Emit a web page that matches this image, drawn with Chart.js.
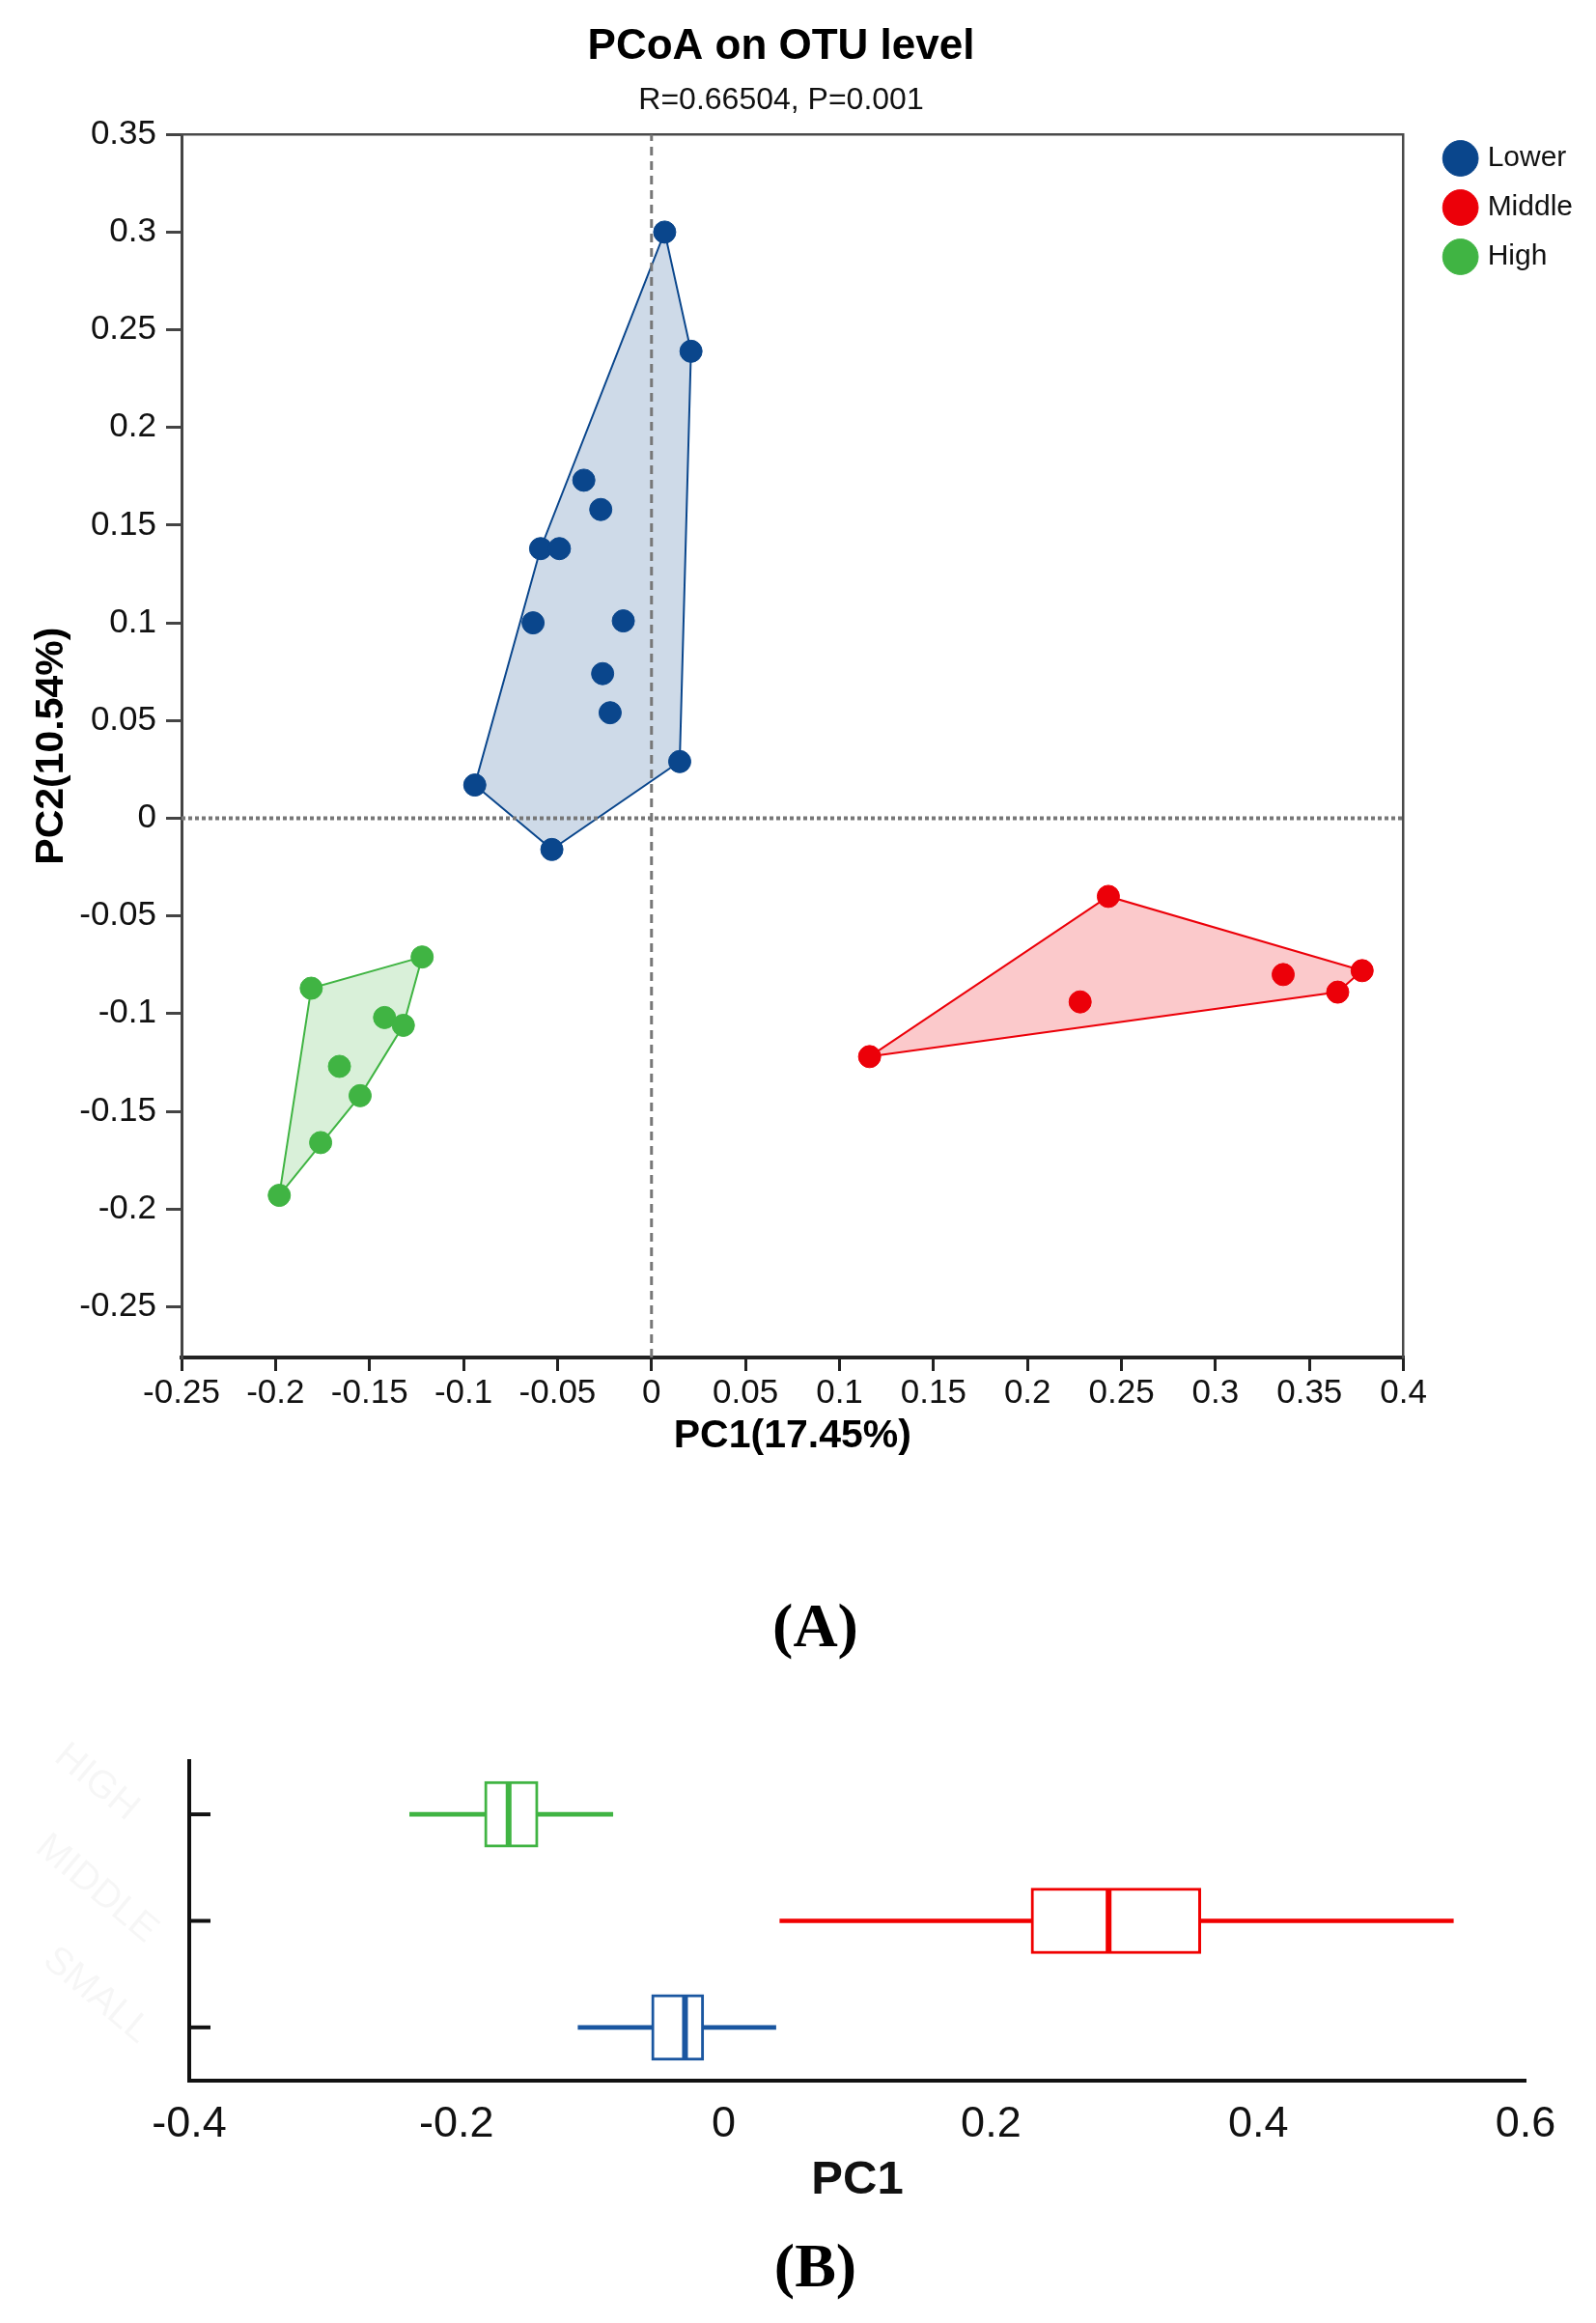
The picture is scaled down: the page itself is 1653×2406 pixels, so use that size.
<!DOCTYPE html>
<html>
<head>
<meta charset="utf-8">
<script src="https://cdn.jsdelivr.net/npm/chart.js@4.4.1/dist/chart.umd.min.js"></script>
<style>
    html, body { margin: 0; padding: 0; background: #fff; width: 1653px; height: 2406px; overflow: hidden; position: relative; }
    #pcoa-plot { position: absolute; left: -21px; top: 0; }
    #pc1-box-plot { position: absolute; left: 0; top: 1760px; }
    .panel-label { position: absolute; left: 18px; width: 1653px; text-align: center; line-height: 1;
        font: bold 64px 'Liberation Serif', 'Times New Roman', serif; color: #000; }
</style>
</head>
<body>
<canvas id="pcoa-plot" width="1670" height="1520"></canvas>
<div class="panel-label" style="top: 1647px">(A)</div>
<canvas id="pc1-box-plot" width="1653" height="540"></canvas>
<div class="panel-label" style="top: 2310px">(B)</div>

<script>
// ---- Panel A: PCoA scatter ----
const groups = ['Lower', 'Middle', 'High']
const groupColors = ['#0A468C', '#EC0009', '#40B443']
const groupFills = ['rgba(10,70,140,0.2)', 'rgba(236,0,9,0.21)', 'rgba(64,180,67,0.2)']

const lowerPC1 = [0.007, 0.021, -0.036, -0.027, -0.059, -0.049, -0.063, -0.015, -0.026, -0.022, 0.015, -0.094, -0.053]
const lowerPC2 = [0.300, 0.239, 0.173, 0.158, 0.138, 0.138, 0.100, 0.101, 0.074, 0.054, 0.029, 0.017, -0.016]
const middlePC1 = [0.243, 0.378, 0.336, 0.365, 0.228, 0.116]
const middlePC2 = [-0.040, -0.078, -0.080, -0.089, -0.094, -0.122]
const highPC1 = [-0.122, -0.181, -0.142, -0.132, -0.166, -0.155, -0.176, -0.198]
const highPC2 = [-0.071, -0.087, -0.102, -0.106, -0.127, -0.142, -0.166, -0.193]

const pc1Ticks = [-0.25, -0.2, -0.15, -0.1, -0.05, 0, 0.05, 0.1, 0.15, 0.2, 0.25, 0.3, 0.35, 0.4]
const pc2Ticks = [-0.25, -0.2, -0.15, -0.1, -0.05, 0, 0.05, 0.1, 0.15, 0.2, 0.25, 0.3, 0.35]
const pc1Min = -0.25
const pc1Max = 0.4
const pc2Min = -0.276
const pc2Max = 0.35

// ---- Panel B: PC1 box plot ----
const boxCategories = ['HIGH', 'MIDDLE', 'SMALL']
const boxColors = ['#40B443', '#F00000', '#1A56A0']
const boxMin = [-0.235, 0.042, -0.109]
const boxQ1 = [-0.179, 0.230, -0.054]
const boxMedian = [-0.161, 0.288, -0.029]
const boxQ3 = [-0.139, 0.357, -0.015]
const boxMax = [-0.083, 0.546, 0.039]
const boxTicks = [-0.4, -0.2, 0, 0.2, 0.4, 0.6]

Chart.defaults.font.family = "'Liberation Sans', Arial, sans-serif"
Chart.defaults.color = '#111'

const fmt = (v) => String(Math.round(v * 100) / 100)

function toPoints(xs, ys) {
    return xs.map((x, i) => ({x: x, y: ys[i]}))
}

// convex hull (monotone chain), closed by repeating the first point
function hull(xs, ys) {
    const pts = toPoints(xs, ys).sort((a, b) => a.x - b.x || a.y - b.y)
    const cross = (o, a, b) => (a.x - o.x) * (b.y - o.y) - (a.y - o.y) * (b.x - o.x)
    const lower = []
    const upper = []
    for (const p of pts) {
        while (lower.length >= 2 && cross(lower[lower.length - 2], lower[lower.length - 1], p) <= 0) lower.pop()
        lower.push(p)
    }
    for (const p of pts.slice().reverse()) {
        while (upper.length >= 2 && cross(upper[upper.length - 2], upper[upper.length - 1], p) <= 0) upper.pop()
        upper.push(p)
    }
    const h = lower.slice(0, -1).concat(upper.slice(0, -1))
    h.push(h[0])
    return h
}

const groupX = [lowerPC1, middlePC1, highPC1]
const groupY = [lowerPC2, middlePC2, highPC2]

const pcoaDatasets = []
groups.forEach((g, i) => {
    pcoaDatasets.push({
        type: 'scatter', label: g, data: toPoints(groupX[i], groupY[i]),
        backgroundColor: groupColors[i], borderColor: groupColors[i], borderWidth: 1,
        pointRadius: 11.5, pointHoverRadius: 11.5, pointStyle: 'circle', order: 1
    })
})
// zero reference lines
pcoaDatasets.push({
    type: 'line', label: '', data: [{x: 0, y: pc2Min}, {x: 0, y: pc2Max}],
    borderColor: '#777', borderWidth: 3, borderDash: [9, 6], pointRadius: 0, fill: false, order: 2
})
pcoaDatasets.push({
    type: 'line', label: '', data: [{x: pc1Min, y: 0}, {x: pc1Max, y: 0}],
    borderColor: '#777', borderWidth: 4, borderDash: [4, 3], pointRadius: 0, fill: false, order: 2
})
groups.forEach((g, i) => {
    pcoaDatasets.push({
        type: 'line', label: '', data: hull(groupX[i], groupY[i]),
        borderColor: groupColors[i], backgroundColor: groupFills[i], borderWidth: 2,
        fill: 'shape', pointRadius: 0, tension: 0, order: 3
    })
})

const frameAxis = (position, size) => ({
    type: 'linear', position: position, display: true,
    min: position === 'top' ? pc1Min : pc2Min, max: position === 'top' ? pc1Max : pc2Max,
    ticks: {display: false}, grid: {display: false},
    border: {display: true, color: '#4a4a4a', width: 2.5},
    afterFit: (s) => { if (position === 'top') { s.height = size } else { s.width = size } }
})

new Chart(document.getElementById('pcoa-plot'), {
    type: 'scatter',
    data: {datasets: pcoaDatasets},
    options: {
        responsive: false,
        animation: false,
        devicePixelRatio: 1,
        events: [],
        layout: {padding: {left: 0, right: 10, top: 0, bottom: 0}},
        scales: {
            x: {
                type: 'linear', position: 'bottom', min: pc1Min, max: pc1Max,
                afterBuildTicks: (s) => { s.ticks = pc1Ticks.map((v) => ({value: v})) },
                ticks: {callback: fmt, font: {size: 35}, color: '#111', padding: 2, maxRotation: 0, autoSkip: false},
                grid: {drawOnChartArea: false, tickLength: 14, color: '#222', lineWidth: 3},
                border: {display: true, color: '#222', width: 4},
                title: {display: true, text: 'PC1(17.45%)', font: {size: 41, weight: 'bold'}, color: '#000', padding: {top: 0, bottom: 8}},
                afterFit: (s) => { s.height = 114 }
            },
            y: {
                type: 'linear', position: 'left', min: pc2Min, max: pc2Max,
                afterBuildTicks: (s) => { s.ticks = pc2Ticks.map((v) => ({value: v})) },
                ticks: {callback: fmt, font: {size: 35}, color: '#111', padding: 10, autoSkip: false},
                grid: {drawOnChartArea: false, tickLength: 16, color: '#444', lineWidth: 3},
                border: {display: true, color: '#444', width: 3},
                title: {display: true, text: 'PC2(10.54%)', font: {size: 41, weight: 'bold'}, color: '#000', padding: {top: 50, bottom: 0}},
                afterFit: (s) => { s.width = 209 }
            },
            x2: frameAxis('top', 0),
            y2: frameAxis('right', 25)
        },
        plugins: {
            title: {display: true, text: 'PCoA on OTU level', font: {size: 44, weight: 'bold'}, color: '#000', padding: {top: 22, bottom: 10}},
            subtitle: {display: true, text: 'R=0.66504, P=0.001', font: {size: 32}, color: '#111', padding: {top: 0, bottom: 16}},
            legend: {
                display: true, position: 'right', align: 'start',
                title: {display: true, text: '', font: {size: 10}, padding: {top: 116, bottom: 0}},
                labels: {
                    usePointStyle: true, pointStyle: 'circle', boxWidth: 26, boxHeight: 26, padding: 21,
                    font: {size: 30}, color: '#111',
                    filter: (item) => item.text !== ''
                }
            },
            tooltip: {enabled: false}
        }
    }
})

// inward ticks and the faint category names of panel B
const innerTicks = {
    id: 'innerTicks',
    afterDraw(chart) {
        const {ctx, chartArea, scales} = chart
        ctx.save()
        ctx.strokeStyle = '#111'
        ctx.lineWidth = 4
        boxCategories.forEach((c, i) => {
            const py = scales.y.getPixelForValue(i)
            ctx.beginPath()
            ctx.moveTo(chartArea.left, py)
            ctx.lineTo(chartArea.left + 22, py)
            ctx.stroke()
        })
        ctx.fillStyle = 'rgba(0,0,0,0.035)'
        ctx.font = "40px 'Liberation Sans', Arial, sans-serif"
        ctx.textAlign = 'center'
        ctx.textBaseline = 'middle'
        boxCategories.forEach((c, i) => {
            ctx.save()
            ctx.translate(chartArea.left - 96, scales.y.getPixelForValue(i) - 33)
            ctx.rotate(40 * Math.PI / 180)
            ctx.fillText(c, 0, 0)
            ctx.restore()
        })
        ctx.restore()
    }
}

new Chart(document.getElementById('pc1-box-plot'), {
    type: 'bar',
    data: {
        labels: boxCategories,
        datasets: [
            {
                type: 'line', label: 'median', data: boxCategories.map((c, i) => ({x: boxMedian[i], y: c})),
                showLine: false, pointStyle: 'line', pointRotation: 90, pointRadius: 33,
                pointBorderWidth: 6, pointBorderColor: boxColors, pointBackgroundColor: boxColors, order: 1
            },
            {
                label: 'box', data: boxCategories.map((c, i) => [boxQ1[i], boxQ3[i]]),
                backgroundColor: '#fff', borderColor: boxColors, borderWidth: 3, borderSkipped: false,
                barThickness: 68, grouped: false, order: 2
            },
            {
                label: 'whisker', data: boxCategories.map((c, i) => [boxMin[i], boxMax[i]]),
                backgroundColor: boxColors, borderWidth: 0, barThickness: 4, grouped: false, order: 3
            }
        ]
    },
    options: {
        indexAxis: 'y',
        responsive: false,
        animation: false,
        devicePixelRatio: 1,
        events: [],
        layout: {padding: {left: 0, right: 73, top: 64, bottom: 0}},
        scales: {
            x: {
                type: 'linear', min: -0.4, max: 0.6,
                afterBuildTicks: (s) => { s.ticks = boxTicks.map((v) => ({value: v})) },
                ticks: {callback: fmt, font: {size: 45}, color: '#111', padding: 19, maxRotation: 0},
                grid: {display: false, drawTicks: false},
                border: {display: true, color: '#111', width: 4},
                title: {display: true, text: 'PC1', font: {size: 49, weight: 'bold'}, color: '#111', padding: {top: 0, bottom: 12}},
                afterFit: (s) => { s.height = 145 }
            },
            y: {
                type: 'category',
                ticks: {display: false},
                grid: {display: false, drawTicks: false},
                border: {display: true, color: '#111', width: 4},
                afterFit: (s) => { s.width = 196 }
            }
        },
        plugins: {
            legend: {display: false},
            tooltip: {enabled: false}
        }
    },
    plugins: [innerTicks]
})
</script>
</body>
</html>
